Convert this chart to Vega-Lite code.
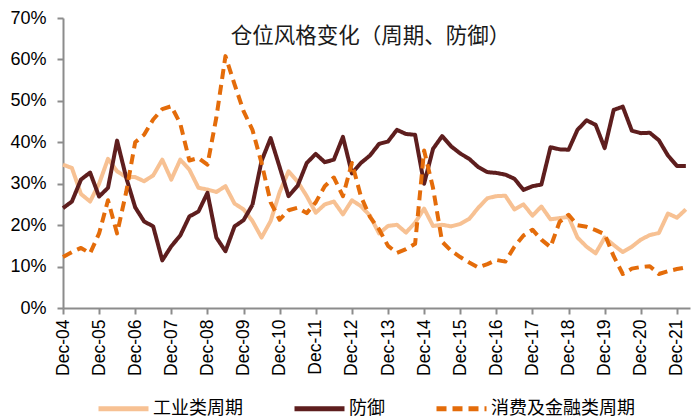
{
 "$schema": "https://vega.github.io/schema/vega-lite/v6.json",
 "width": 627, "height": 290,
 "autosize": {"type": "none"},
 "padding": {"left": 63, "top": 18, "right": 10, "bottom": 112},
 "background": "white",
 "title": {"text": "仓位风格变化（周期、防御）", "font": "Noto Sans CJK SC", "fontSize": 21.5, "fontWeight": "normal", "color": "#1a1a1a", "offset": -38, "dx": -6, "anchor": "middle"},
 "data": {"values": [
  {"date":"2004-12-01","工业类周期":34.6,"防御":24.1,"消费及金融类周期":12.3},
  {"date":"2005-03-01","工业类周期":33.8,"防御":25.7,"消费及金融类周期":13.5},
  {"date":"2005-06-01","工业类周期":27.5,"防御":31,"消费及金融类周期":14.5},
  {"date":"2005-09-01","工业类周期":25.7,"防御":32.7,"消费及金融类周期":13.2},
  {"date":"2005-12-01","工业类周期":30,"防御":26.9,"消费及金融类周期":18},
  {"date":"2006-03-01","工业类周期":36,"防御":29,"消费及金融类周期":26},
  {"date":"2006-06-01","工业类周期":33,"防御":40.4,"消费及金融类周期":18},
  {"date":"2006-09-01","工业类周期":31.6,"防御":31.5,"消费及金融类周期":28},
  {"date":"2006-12-01","工业类周期":31.6,"防御":24.3,"消费及金融类周期":40},
  {"date":"2007-03-01","工业类周期":30.6,"防御":20.9,"消费及金融类周期":41.8},
  {"date":"2007-06-01","工业类周期":32,"防御":19.7,"消费及金融类周期":45.5},
  {"date":"2007-09-01","工业类周期":35.8,"防御":11.5,"消费及金融类周期":48},
  {"date":"2007-12-01","工业类周期":31,"防御":14.9,"消费及金融类周期":48.7},
  {"date":"2008-03-01","工业类周期":35.8,"防御":17.5,"消费及金融类周期":44.5},
  {"date":"2008-06-01","工业类周期":33.4,"防御":22.1,"消费及金融类周期":35.6},
  {"date":"2008-09-01","工业类周期":29,"防御":23.3,"消费及金融类周期":36.2},
  {"date":"2008-12-01","工业类周期":28.6,"防御":27.8,"消费及金融类周期":34.6},
  {"date":"2009-03-01","工业类周期":28,"防御":17,"消费及金融类周期":46},
  {"date":"2009-06-01","工业类周期":29.4,"防御":13.7,"消费及金融类周期":60.8},
  {"date":"2009-09-01","工业类周期":25.2,"防御":19.7,"消费及金融类周期":54},
  {"date":"2009-12-01","工业类周期":23.8,"防御":21.2,"消费及金融类周期":47.5},
  {"date":"2010-03-01","工业类周期":21,"防御":24.9,"消费及金融类周期":43},
  {"date":"2010-06-01","工业类周期":17,"防御":35.5,"消费及金融类周期":35},
  {"date":"2010-09-01","工业类周期":21,"防御":41,"消费及金融类周期":25.5},
  {"date":"2010-12-01","工业类周期":28,"防御":34,"消费及金融类周期":21.3},
  {"date":"2011-03-01","工业类周期":33,"防御":27,"消费及金融类周期":23.6},
  {"date":"2011-06-01","工业类周期":30.5,"防御":29.5,"消费及金融类周期":24.2},
  {"date":"2011-09-01","工业类周期":27,"防御":35,"消费及金融类周期":22.9},
  {"date":"2011-12-01","工业类周期":23,"防御":37.2,"消费及金融类周期":25.5},
  {"date":"2012-03-01","工业类周期":25,"防御":35.2,"消费及金融类周期":29.4},
  {"date":"2012-06-01","工业类周期":25.7,"防御":35.8,"消费及金融类周期":31.5},
  {"date":"2012-09-01","工业类周期":22.6,"防御":41.3,"消费及金融类周期":27},
  {"date":"2012-12-01","工业类周期":26,"防御":32.5,"消费及金融类周期":35},
  {"date":"2013-03-01","工业类周期":24.6,"防御":35,"消费及金融类周期":27},
  {"date":"2013-06-01","工业类周期":22.3,"防御":36.8,"消费及金融类周期":22},
  {"date":"2013-09-01","工业类周期":18,"防御":39.6,"消费及金融类周期":19},
  {"date":"2013-12-01","工业类周期":19.8,"防御":40.2,"消费及金融类周期":15},
  {"date":"2014-03-01","工业类周期":20.1,"防御":43,"消费及金融类周期":13.3},
  {"date":"2014-06-01","工业类周期":18.2,"防御":42,"消费及金融类周期":14.2},
  {"date":"2014-09-01","工业类周期":20.6,"防御":41.8,"消费及金融类周期":15.5},
  {"date":"2014-12-01","工业类周期":24,"防御":30,"消费及金融类周期":38},
  {"date":"2015-03-01","工业类周期":19.8,"防御":38.4,"消费及金融类周期":29},
  {"date":"2015-06-01","工业类周期":20.1,"防御":41.5,"消费及金融类周期":16},
  {"date":"2015-09-01","工业类周期":19.7,"防御":39,"消费及金融类周期":13.8},
  {"date":"2015-12-01","工业类周期":20.3,"防御":37.3,"消费及金融类周期":12.3},
  {"date":"2016-03-01","工业类周期":21.5,"防御":36,"消费及金融类周期":11},
  {"date":"2016-06-01","工业类周期":24.2,"防御":34,"消费及金融类周期":9.8},
  {"date":"2016-09-01","工业类周期":26.5,"防御":32.8,"消费及金融类周期":10.6},
  {"date":"2016-12-01","工业类周期":27,"防御":32.6,"消费及金融类周期":11.6},
  {"date":"2017-03-01","工业类周期":27.1,"防御":32.2,"消费及金融类周期":11.2},
  {"date":"2017-06-01","工业类周期":23.8,"防御":31.2,"消费及金融类周期":14.8},
  {"date":"2017-09-01","工业类周期":25,"防御":28.5,"消费及金融类周期":17.5},
  {"date":"2017-12-01","工业类周期":22.3,"防御":29.4,"消费及金融类周期":18.9},
  {"date":"2018-03-01","工业类周期":24.5,"防御":29.8,"消费及金融类周期":16.5},
  {"date":"2018-06-01","工业类周期":21.4,"防御":38.8,"消费及金融类周期":14.7},
  {"date":"2018-09-01","工业类周期":21.7,"防御":38.3,"消费及金融类周期":20.8},
  {"date":"2018-12-01","工业类周期":22,"防御":38.2,"消费及金融类周期":22.5},
  {"date":"2019-03-01","工业类周期":17,"防御":43,"消费及金融类周期":20},
  {"date":"2019-06-01","工业类周期":14.8,"防御":45.3,"消费及金融类周期":19.6},
  {"date":"2019-09-01","工业类周期":13.2,"防御":44.2,"消费及金融类周期":18.8},
  {"date":"2019-12-01","工业类周期":17,"防御":38.6,"消费及金融类周期":17.8},
  {"date":"2020-03-01","工业类周期":15.2,"防御":47.8,"消费及金融类周期":12.5},
  {"date":"2020-06-01","工业类周期":13.5,"防御":48.6,"消费及金融类周期":8.2},
  {"date":"2020-09-01","工业类周期":14.8,"防御":42.8,"消费及金融类周期":9.5},
  {"date":"2020-12-01","工业类周期":16.5,"防御":42.2,"消费及金融类周期":9.9},
  {"date":"2021-03-01","工业类周期":17.6,"防御":42.3,"消费及金融类周期":10.1},
  {"date":"2021-06-01","工业类周期":18.1,"防御":40.5,"消费及金融类周期":8.2},
  {"date":"2021-09-01","工业类周期":22.8,"防御":36.8,"消费及金融类周期":8.9},
  {"date":"2021-12-01","工业类周期":21.8,"防御":34.3,"消费及金融类周期":9.4},
  {"date":"2022-03-01","工业类周期":23.8,"防御":34.3,"消费及金融类周期":9.8}
 ]},
 "transform": [{"fold": ["工业类周期", "防御", "消费及金融类周期"], "as": ["series", "value"]}],
 "mark": {"type": "line", "strokeWidth": 4, "strokeCap": "butt", "strokeJoin": "round"},
 "encoding": {
  "x": {"field": "date", "type": "temporal",
   "scale": {"type": "utc", "domain": [{"year":2004,"month":12,"date":1,"utc":true}, {"year":2022,"month":4,"date":12,"utc":true}], "nice": false},
   "axis": {"values": [
     {"year":2004,"month":12,"date":1,"utc":true},{"year":2005,"month":12,"date":1,"utc":true},{"year":2006,"month":12,"date":1,"utc":true},
     {"year":2007,"month":12,"date":1,"utc":true},{"year":2008,"month":12,"date":1,"utc":true},{"year":2009,"month":12,"date":1,"utc":true},
     {"year":2010,"month":12,"date":1,"utc":true},{"year":2011,"month":12,"date":1,"utc":true},{"year":2012,"month":12,"date":1,"utc":true},
     {"year":2013,"month":12,"date":1,"utc":true},{"year":2014,"month":12,"date":1,"utc":true},{"year":2015,"month":12,"date":1,"utc":true},
     {"year":2016,"month":12,"date":1,"utc":true},{"year":2017,"month":12,"date":1,"utc":true},{"year":2018,"month":12,"date":1,"utc":true},
     {"year":2019,"month":12,"date":1,"utc":true},{"year":2020,"month":12,"date":1,"utc":true},{"year":2021,"month":12,"date":1,"utc":true}],
    "labelExpr": "utcFormat(datum.value, '%b-%y')", "labelAngle": -90, "title": null, "grid": false,
    "domainColor": "#8c8c8c", "domainWidth": 2, "tickColor": "#8c8c8c", "tickWidth": 2, "tickSize": 6,
    "labelFont": "Liberation Sans", "labelFontSize": 17.5, "labelColor": "#000000", "labelPadding": 5}},
  "y": {"field": "value", "type": "quantitative",
   "scale": {"domain": [0, 70], "nice": false},
   "axis": {"values": [0,10,20,30,40,50,60,70], "labelExpr": "datum.value + '%'", "title": null, "grid": false,
    "domainColor": "#8c8c8c", "domainWidth": 2, "tickColor": "#8c8c8c", "tickWidth": 2, "tickSize": 6,
    "labelFont": "Liberation Sans", "labelFontSize": 18, "labelColor": "#000000", "labelPadding": 11}},
  "color": {"field": "series", "type": "nominal",
   "scale": {"domain": ["工业类周期", "防御", "消费及金融类周期"], "range": ["#F7C193", "#5E1E1E", "#E46C0A"]},
   "legend": {"title": null, "orient": "none", "legendX": 33, "legendY": 363, "direction": "horizontal", "padding": 0,
    "symbolType": "stroke", "symbolSize": 2500, "symbolStrokeWidth": 5, "labelFont": "Noto Sans CJK SC",
    "labelFontSize": 18, "labelColor": "#000000", "columnPadding": 41, "labelOffset": 2}},
  "strokeDash": {"field": "series", "type": "nominal",
   "scale": {"domain": ["工业类周期", "防御", "消费及金融类周期"], "range": [[1, 0], [1, 0], [10, 6]]},
   "legend": {"title": null, "orient": "none", "legendX": 33, "legendY": 363, "direction": "horizontal", "padding": 0,
    "symbolType": "stroke", "symbolSize": 2500, "symbolStrokeWidth": 5, "labelFont": "Noto Sans CJK SC",
    "labelFontSize": 18, "labelColor": "#000000", "columnPadding": 41, "labelOffset": 2}}
 },
 "config": {"view": {"stroke": null}}
}
